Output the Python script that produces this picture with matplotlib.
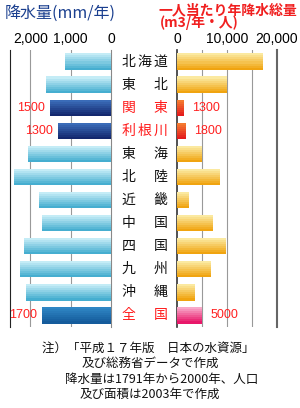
import numpy as np
import matplotlib
matplotlib.use("Agg")
import matplotlib.pyplot as plt
import matplotlib.transforms as mtransforms
from matplotlib.colors import to_rgb

plt.rcParams['font.family'] = ['Noto Sans CJK JP', 'DejaVu Sans']

# data
regions = ["北海道", "東　北", "関　東", "利根川", "東　海", "北　陸",
           "近　畿", "中　国", "四　国", "九　州", "沖　縄", "全　国"]
rain = [1150, 1610, 1500, 1300, 2050, 2400, 1780, 1700, 2150, 2250, 2100, 1700]
per_capita = [17100, 9900, 1300, 1800, 4900, 8600, 2300, 7100, 9800, 6700, 3500, 5000]
special = {2: "dark", 3: "dark", 11: "total"}
rain_ticks = [2000, 1000, 0]
rain_ticklabels = ["2,000", "1,000", "0"]
cap_ticks = [0, 10000, 20000]
cap_ticklabels = ["0", "10,000", "20,000"]

notes = ["注）「平成１７年版　日本の水資源」",
         "及び総務省データで作成",
         "降水量は1791年から2000年、人口",
         "及び面積は2003年で作成"]

left_cols = {"normal": ("#c4ecf6", "#46aed0"),
             "dark": ("#3a6cb8", "#14286e"),
             "total": ("#2f86c4", "#155c9c")}
right_cols = {"normal": ("#fbe9a0", "#f0a410"),
              "dark": ("#f47a30", "#e41c1c"),
              "total": ("#f8a8c8", "#e8186a")}


def grad_bars(ax, y, vals, kinds, cols, h=0.7, nstrip=8):
    for k in range(nstrip):
        t = k / (nstrip - 1)
        off = -h / 2 + h * (k + 0.5) / nstrip
        colors = []
        for kind in kinds:
            c0 = np.array(to_rgb(cols[kind][0]))
            c1 = np.array(to_rgb(cols[kind][1]))
            colors.append(tuple(c0 + (c1 - c0) * t))
        ax.barh(y + off, vals, height=h / nstrip + 0.005, color=colors,
                linewidth=0, zorder=3)


n = len(regions)
y = np.arange(n)
kinds = [special.get(i, "normal") for i in range(n)]

fig = plt.figure(figsize=(3.0, 4.08), dpi=100)
ax1 = fig.add_axes([10 / 300, 1 - 327 / 408, 101 / 300, 277 / 408])
ax2 = fig.add_axes([177 / 300, 1 - 327 / 408, 100 / 300, 277 / 408])

grad_bars(ax1, y, rain, kinds, left_cols)
grad_bars(ax2, y, per_capita, kinds, right_cols)

ax1.set_xlim(2500, 0)
ax2.set_xlim(0, 20000)
for ax in (ax1, ax2):
    ax.set_ylim(n - 0.5, -0.5)
    ax.set_yticks(y)
    ax.tick_params(axis='y', direction='in', length=3, labelleft=False,
                   labelright=False, color='#333333')
    ax.spines['top'].set_visible(False)
    ax.spines['bottom'].set_visible(False)
    ax.xaxis.tick_top()
    ax.tick_params(axis='x', length=0, pad=3, labelsize=10)

ax1.yaxis.tick_right()
ax1.tick_params(axis='y', direction='in', length=3, labelright=False)
ax1.set_xticks(rain_ticks, rain_ticklabels, family='Liberation Sans', fontsize=10)
for g in [1000, 2000]:
    ax1.axvline(g, color='#999999', lw=0.8, zorder=1)
ax1.spines['left'].set_color('#222222')
ax1.spines['right'].set_color('#888888')

ax2.set_xticks(cap_ticks, cap_ticklabels, family='Liberation Sans', fontsize=10)
for g in [5000, 10000, 15000]:
    ax2.axvline(g, color='#999999', lw=0.8, zorder=1)
ax2.spines['left'].set_color('#333333')
ax2.spines['left'].set_linewidth(1.2)
ax2.spines['right'].set_color('#666666')
ax2.spines['right'].set_linewidth(1.5)

# value labels on highlighted rows
for i in special:
    ax1.annotate(str(rain[i]), (rain[i], y[i]), xytext=(-4, 0),
                 textcoords='offset points', ha='right', va='center',
                 color='#ff2020', fontsize=9, family='Liberation Sans')
    ax2.annotate(str(per_capita[i]), (per_capita[i], y[i]), xytext=(6, 0),
                 textcoords='offset points', ha='left', va='center',
                 color='#ff2020', fontsize=9, family='Liberation Sans')

# region names between the panels, one character per slot
trans = mtransforms.blended_transform_factory(fig.transFigure, ax1.transData)
slot_x = [128.5, 144.5, 160.5]
for i, name in enumerate(regions):
    col = '#ff1a1a' if i in special else '#111111'
    for ch, sx in zip(name, slot_x):
        if ch.strip() == "":
            continue
        fig.text(sx / 300, y[i], ch, transform=trans, ha='center', va='center',
                 fontsize=10, color=col)

# titles
fig.text(5 / 300, 1 - 13 / 408, "降水量(mm/年)", color='#1a3f8f',
         fontsize=11.5, va='center', ha='left')
fig.text(158 / 300, 1 - 10 / 408, "一人当たり年降水総量", color='#f02020',
         fontsize=10, va='center', ha='left', fontweight='bold')
fig.text(160 / 300, 1 - 23 / 408, "(m3/年・人)", color='#f02020',
         fontsize=10, va='center', ha='left', fontweight='bold')

# notes
note_x = [148, 150, 162, 150]
note_y = [348, 363, 379, 394]
for t, nx, ny in zip(notes, note_x, note_y):
    fig.text(nx / 300, 1 - ny / 408, t, ha='center', va='center',
             fontsize=9, color='#111111')

fig.savefig("out.png", dpi=100)
